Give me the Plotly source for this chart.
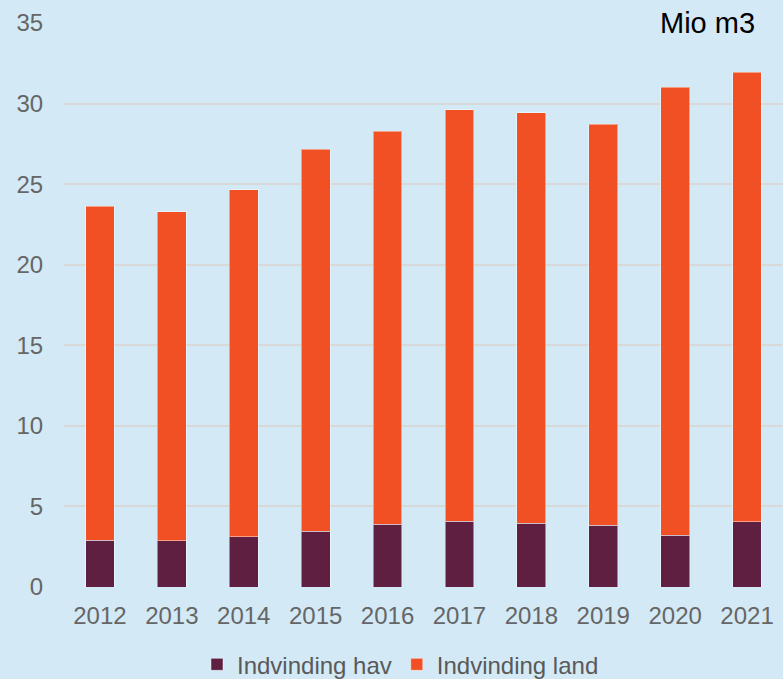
import plotly.graph_objects as go

years = ["2012", "2013", "2014", "2015", "2016", "2017", "2018", "2019", "2020", "2021"]
hav = [2.90, 2.86, 3.11, 3.46, 3.88, 4.09, 3.96, 3.84, 3.20, 4.04]
total = [23.63, 23.30, 24.65, 27.18, 28.28, 29.63, 29.42, 28.71, 31.00, 31.93]
land = [round(t - h, 2) for t, h in zip(total, hav)]
y_ticks = [0, 5, 10, 15, 20, 25, 30, 35]

FONT = "Liberation Sans, Arial, sans-serif"
BG = "#D3E9F6"

fig = go.Figure()
fig.add_trace(go.Bar(
    x=years, y=hav, name="Indvinding hav",
    marker=dict(color="#5F1F41", line=dict(color="rgba(255,255,255,0.45)", width=1)),
))
fig.add_trace(go.Bar(
    x=years, y=land, name="Indvinding land",
    marker=dict(color="#F05023", line=dict(color="rgba(255,255,255,0.45)", width=1)),
))

fig.update_layout(
    barmode="stack",
    bargap=0.6,
    width=783, height=679,
    margin=dict(l=64, r=0, t=23, b=92),
    paper_bgcolor=BG, plot_bgcolor=BG,
    font=dict(family=FONT, size=24, color="#666666"),
    showlegend=True,
    legend=dict(
        orientation="h", x=0.468, xanchor="center",
        yref="container", y=0.021, yanchor="middle",
        font=dict(size=24, color="#595959"), itemwidth=30, traceorder="normal",
        bgcolor="rgba(0,0,0,0)",
    ),
    xaxis=dict(
        type="category", showgrid=False, zeroline=False, showline=False,
        ticks="outside", ticklen=7, tickcolor="rgba(0,0,0,0)",
        tickfont=dict(size=24, color="#666666"),
    ),
    yaxis=dict(
        range=[0, 35], tickvals=y_ticks, showgrid=True, gridcolor="#D9D9D9", gridwidth=2,
        zeroline=False, showline=False,
        ticks="outside", ticklen=15, tickcolor="rgba(0,0,0,0)",
        tickfont=dict(size=24, color="#666666"),
    ),
    annotations=[dict(
        text="Mio m3", xref="paper", yref="paper", x=0.895, y=1.0,
        xanchor="center", yanchor="middle", showarrow=False,
        font=dict(family=FONT, size=29, color="#000000"),
    )],
)

fig.write_html(
    "out.html",
    config={"displayModeBar": False},
    post_script="document.body.style.margin='0';document.body.style.background='" + BG + "';",
)
